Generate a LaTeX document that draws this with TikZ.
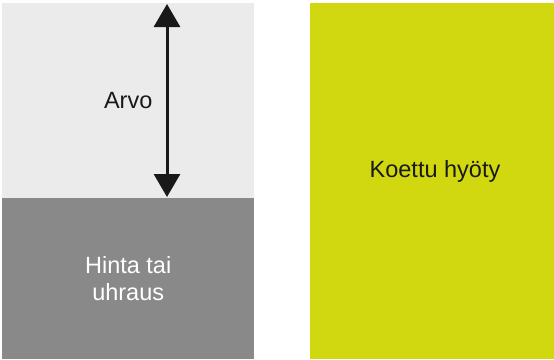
\documentclass[tikz,border=0pt]{standalone}
\usepackage{fontspec}
\setmainfont{Liberation Sans}
\usetikzlibrary{arrows.meta}

\definecolor{valuegray}{HTML}{EBEBEB}
\definecolor{pricegray}{HTML}{898989}
\definecolor{benefitgreen}{HTML}{D1D80F}

\tikzset{
  label text/.style={font=\fontsize{23.5}{27}\selectfont},
  block/.style={label text, minimum width=252pt, anchor=north west, inner sep=0pt,
    align=center}
}

\begin{document}
\begin{tikzpicture}[x=1pt, y=-1pt]
\useasboundingbox (0,0) rectangle (554,359);

% left column: value on top of price
\node[block, fill=valuegray, minimum height=195pt, text=black!90] (value) at (2,3) {Arvo};
\node[block, fill=pricegray, minimum height=161pt, text=white] (price) at (2,198) {Hinta tai\\uhraus};

% right column
\fill[benefitgreen] (310,3) rectangle (554,359);
\node[label text, text=black!90] (benefit) at (435,171) {Koettu hyöty};

% the gap between price and benefit
\coordinate (top) at (167,4);
\coordinate (bottom) at (167,197);
\draw[<->, >={Triangle[width=26pt, length=23pt]}, line width=3pt, black!90] (top) -- (bottom);
\end{tikzpicture}
\end{document}
